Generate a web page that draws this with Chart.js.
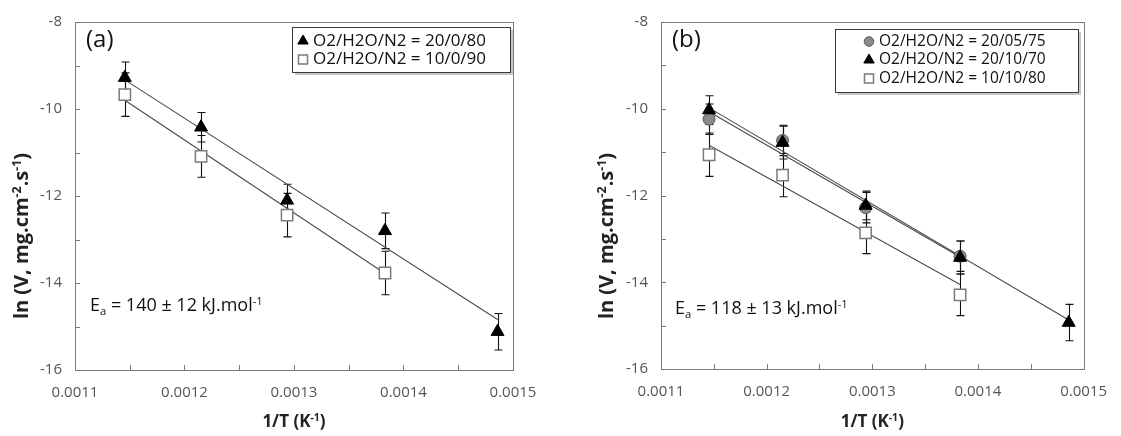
<!DOCTYPE html>
<html><head><meta charset="utf-8">
<script src="https://cdn.jsdelivr.net/npm/chart.js@4/dist/chart.umd.min.js"></script>
<style>
html,body{margin:0;padding:0;background:#fff;}
#wrap{position:relative;width:1121px;height:436px;overflow:hidden;}
.pane{position:absolute;top:0;height:436px;}
#pa{left:0;width:560px;}
#pb{left:560px;width:561px;}
</style></head><body>
<div id="wrap">
  <div class="pane" id="pa"><canvas id="ca" width="560" height="436"></canvas></div>
  <div class="pane" id="pb"><canvas id="cb" width="561" height="436"></canvas></div>
</div>
<script>
// ---------- data ----------
const invT   = [0.0011455, 0.0012151, 0.0012937, 0.0013831, 0.0014859];
const xTicks = [0.0011, 0.0012, 0.0013, 0.0014, 0.0015];
const yTicks = [-16, -14, -12, -10, -8];

// panel (a)
const a_20_0_80      = [-9.28, -10.42, -12.10, -12.80, -15.12];
const a_20_0_80_err  = [0.36, 0.34, 0.37, 0.41, 0.42];
const a_10_0_90      = [-9.67, -11.09, -12.44, -13.77];
const a_10_0_90_err  = [0.50, 0.48, 0.50, 0.50];
const a_fit_20_0_80  = [-9.33, -14.84];   // trend line at first / last point
const a_fit_10_0_90  = [-9.80, -13.78];

// panel (b)
const b_20_05_75     = [-10.24, -10.73, -12.28, -13.40];
const b_20_05_75_err = [0.35, 0.35, 0.35, 0.35];
const b_20_10_70     = [-10.03, -10.78, -12.23, -13.43, -14.93];
const b_20_10_70_err = [0.33, 0.38, 0.33, 0.38, 0.42];
const b_10_10_80     = [-11.06, -11.53, -12.86, -14.29];
const b_10_10_80_err = [0.50, 0.50, 0.48, 0.48];
const b_fit_20_05_75 = [-10.07, -13.42];
const b_fit_20_10_70 = [-9.98, -14.87];
const b_fit_10_10_80 = [-10.84, -14.05];

const labels_a = ['O2/H2O/N2 = 20/0/80', 'O2/H2O/N2 = 10/0/90'];
const labels_b = ['O2/H2O/N2 = 20/05/75', 'O2/H2O/N2 = 20/10/70', 'O2/H2O/N2 = 10/10/80'];

// ---------- styles ----------
const FONT = "'Open Sans', sans-serif";
Chart.defaults.font.family = FONT;
const FRAME = '#7a7a7a';
const LINEC = '#4a4a4a';
const STY = {
  tri: {pointStyle:'triangle', radius:7.5, backgroundColor:'#000', borderColor:'#000', borderWidth:1},
  sq:  {pointStyle:'rect', radius:8, backgroundColor:'#fff', borderColor:'#7a7a7a', borderWidth:1.5},
  circ:{pointStyle:'circle', radius:6, backgroundColor:'#8a8a8a', borderColor:'#5a5a5a', borderWidth:1}
};

function pts(vals){ return vals.map((v,i)=>({x:invT[i], y:v})); }
function fitPts(f, n){ return [{x:invT[0], y:f[0]}, {x:invT[n-1], y:f[1]}]; }
function markerDs(label, vals, err, st, order){
  return {type:'scatter', label, data:pts(vals), err, showLine:false, order,
    pointStyle:st.pointStyle, pointRadius:st.radius, pointHoverRadius:st.radius,
    pointBackgroundColor:st.backgroundColor, pointBorderColor:st.borderColor,
    pointBorderWidth:st.borderWidth};
}
function lineDs(f, n){
  return {type:'line', data:fitPts(f,n), borderColor:LINEC, borderWidth:1.1,
    pointRadius:0, fill:false, tension:0, order:10};
}

// rich text: segments {t, sup, sub}
function segFont(weight, size, s){ return weight + ' ' + (s.sup||s.sub ? size*0.62 : size) + 'px ' + FONT; }
function drawRich(ctx, segs, cx, cy, size, weight, color, rot){
  ctx.save();
  ctx.translate(cx, cy);
  if (rot) ctx.rotate(rot);
  let total = 0;
  segs.forEach(s=>{ ctx.font = segFont(weight,size,s); s.w = ctx.measureText(s.t).width; total += s.w; });
  let x = -total/2;
  ctx.fillStyle = color; ctx.textBaseline = 'alphabetic'; ctx.textAlign = 'left';
  segs.forEach(s=>{
    ctx.font = segFont(weight,size,s);
    const dy = s.sup ? -size*0.38 : (s.sub ? size*0.2 : 0);
    ctx.fillText(s.t, x, size*0.36 + dy);
    x += s.w;
  });
  ctx.restore();
}
function drawRichLeft(ctx, segs, lx, cy, size, weight, color){
  ctx.save();
  let x = lx;
  ctx.fillStyle = color; ctx.textBaseline='alphabetic'; ctx.textAlign='left';
  segs.forEach(s=>{
    ctx.font = segFont(weight,size,s);
    const dy = s.sup ? -size*0.38 : (s.sub ? size*0.22 : 0);
    ctx.fillText(s.t, x, cy + size*0.36 + dy);
    x += ctx.measureText(s.t).width;
  });
  ctx.restore();
}
function drawMarker(ctx, st, x, y){
  ctx.save();
  ctx.fillStyle = st.backgroundColor; ctx.strokeStyle = st.borderColor; ctx.lineWidth = st.borderWidth;
  const r = st.radius;
  ctx.beginPath();
  if (st.pointStyle === 'triangle'){
    ctx.moveTo(x, y - r);
    ctx.lineTo(x + r*Math.sin(Math.PI/3), y + r/2);
    ctx.lineTo(x - r*Math.sin(Math.PI/3), y + r/2);
    ctx.closePath();
  } else if (st.pointStyle === 'rect'){
    const s = r*Math.SQRT1_2;
    ctx.rect(x - s, y - s, 2*s, 2*s);
  } else {
    ctx.arc(x, y, r, 0, Math.PI*2);
  }
  ctx.fill(); ctx.stroke();
  ctx.restore();
}

const errorBars = {
  id:'errorBars',
  beforeDatasetsDraw(chart){
    const ctx = chart.ctx, xs = chart.scales.x, ys = chart.scales.y;
    ctx.save(); ctx.strokeStyle = '#111'; ctx.lineWidth = 1.1;
    chart.data.datasets.forEach(ds=>{
      if (!ds.err) return;
      ds.data.forEach((p,i)=>{
        const px = Math.round(xs.getPixelForValue(p.x)) + 0.5;
        const y1 = ys.getPixelForValue(p.y + ds.err[i]);
        const y2 = ys.getPixelForValue(p.y - ds.err[i]);
        ctx.beginPath();
        ctx.moveTo(px, y1); ctx.lineTo(px, y2);
        ctx.moveTo(px-4, y1); ctx.lineTo(px+4, y1);
        ctx.moveTo(px-4, y2); ctx.lineTo(px+4, y2);
        ctx.stroke();
      });
    });
    ctx.restore();
  }
};

const frame = {
  id:'frame',
  afterDatasetsDraw(chart){
    const ctx = chart.ctx, a = chart.chartArea, xs = chart.scales.x, ys = chart.scales.y;
    ctx.save(); ctx.strokeStyle = FRAME; ctx.lineWidth = 1;
    ctx.strokeRect(Math.round(a.left)+0.5, Math.round(a.top)+0.5, Math.round(a.right-a.left), Math.round(a.bottom-a.top));
    ctx.beginPath();
    for (let i=0;i<xTicks.length;i++){
      const vals = [xTicks[i]];
      if (i<xTicks.length-1) vals.push((xTicks[i]+xTicks[i+1])/2);
      vals.forEach(v=>{ const px = Math.round(xs.getPixelForValue(v))+0.5; ctx.moveTo(px, a.bottom); ctx.lineTo(px, a.bottom-5); });
    }
    for (let i=0;i<yTicks.length;i++){
      const vals = [yTicks[i]];
      if (i<yTicks.length-1) vals.push((yTicks[i]+yTicks[i+1])/2);
      vals.forEach(v=>{ const py = Math.round(ys.getPixelForValue(v))+0.5; ctx.moveTo(a.left, py); ctx.lineTo(a.left+5, py); });
    }
    ctx.stroke();
    ctx.restore();
  }
};

function annot(opts){
  return {
    id:'annot',
    afterDraw(chart){
      const ctx = chart.ctx, a = chart.chartArea;
      // panel letter
      ctx.save(); ctx.fillStyle = '#111'; ctx.font = '24px ' + FONT; ctx.textBaseline='middle'; ctx.textAlign='left';
      ctx.fillText(opts.letter, a.left + opts.letterDx, 40);
      ctx.restore();
      // activation energy
      drawRichLeft(ctx, opts.ea, a.left + opts.eaDx, opts.eaY, 18, 'normal', '#111');
      // y title
      drawRich(ctx, [{t:'ln (V, mg.cm'},{t:'-2',sup:true},{t:'.s'},{t:'-1',sup:true},{t:')'}],
        opts.yTitleX, opts.yTitleY, 20, 'bold', '#222', -Math.PI/2);
      // x title
      drawRich(ctx, [{t:'1/T (K'},{t:'-1',sup:true},{t:')'}], (a.left+a.right)/2, 421, 17, 'bold', '#222', 0);
      // legend
      const L = opts.legend;
      ctx.save();
      ctx.fillStyle = 'rgba(0,0,0,0.22)';
      ctx.fillRect(L.x+3, L.y+3, L.w, L.h);
      ctx.fillStyle = '#fff'; ctx.fillRect(L.x, L.y, L.w, L.h);
      ctx.strokeStyle = '#3a3a3a'; ctx.lineWidth = 1;
      ctx.strokeRect(L.x+0.5, L.y+0.5, L.w, L.h);
      ctx.font = L.fs + 'px ' + FONT; ctx.textBaseline='middle'; ctx.textAlign='left';
      L.items.forEach((it, i)=>{
        const y = L.y + L.first + i*L.step;
        drawMarker(ctx, Object.assign({}, it.st, {radius: it.st.radius*0.8}), L.x + L.mx, y);
        ctx.fillStyle = '#111';
        ctx.fillText(it.label, L.x + L.tx, y);
      });
      ctx.restore();
    }
  };
}

function makeChart(id, datasets, opt){
  return new Chart(document.getElementById(id), {
    type:'scatter',
    data:{datasets},
    options:{
      responsive:false, animation:false, devicePixelRatio:1,
      layout:{padding:{left:0, right:opt.right, top:14, bottom:0}},
      plugins:{legend:{display:false}, tooltip:{enabled:false}},
      scales:{
        x:{type:'linear', min:0.0011, max:0.0015,
           afterBuildTicks(s){ s.ticks = xTicks.map(v=>({value:v})); },
           afterFit(s){ s.height = opt.xh; },
           grid:{display:false, drawTicks:false}, border:{display:false},
           ticks:{color:'#555', font:{size:15}, padding:14, maxRotation:0, callback:v=>Number(v).toFixed(4)}},
        y:{type:'linear', min:-16, max:-8,
           afterBuildTicks(s){ s.ticks = yTicks.map(v=>({value:v})); },
           afterFit(s){ s.width = opt.yw; },
           grid:{display:false, drawTicks:false}, border:{display:false},
           ticks:{color:'#555', font:{size:15}, padding:13, callback:v=>String(v)}}
      }
    },
    plugins:[errorBars, frame, annot(opt)]
  });
}

makeChart('ca', [
  markerDs(labels_a[0], a_20_0_80, a_20_0_80_err, STY.tri, 1),
  markerDs(labels_a[1], a_10_0_90, a_10_0_90_err, STY.sq, 2),
  lineDs(a_fit_20_0_80, a_20_0_80.length),
  lineDs(a_fit_10_0_90, a_10_0_90.length)
], {right:47, xh:66, yw:75, letter:'(a)', letterDx:11, eaDx:15, eaY:305,
    ea:[{t:'E'},{t:'a',sub:true},{t:' = 140 ± 12 kJ.mol'},{t:'-1',sup:true}],
    yTitleX:21, yTitleY:236,
    legend:{x:292, y:27, w:218, h:45, first:14, step:18.5, mx:11, tx:21, fs:17,
      items:[{st:STY.tri,label:labels_a[0]},{st:STY.sq,label:labels_a[1]}]}});

makeChart('cb', [
  markerDs(labels_b[1], b_20_10_70, b_20_10_70_err, STY.tri, 1),
  markerDs(labels_b[0], b_20_05_75, b_20_05_75_err, STY.circ, 2),
  markerDs(labels_b[2], b_10_10_80, b_10_10_80_err, STY.sq, 3),
  lineDs(b_fit_20_05_75, b_20_05_75.length),
  lineDs(b_fit_20_10_70, b_20_10_70.length),
  lineDs(b_fit_10_10_80, b_10_10_80.length)
], {right:29, xh:67, yw:101, letter:'(b)', letterDx:11, eaDx:14, eaY:308,
    ea:[{t:'E'},{t:'a',sub:true},{t:' = 118 ± 13 kJ.mol'},{t:'-1',sup:true}],
    yTitleX:46, yTitleY:236,
    legend:{x:275, y:29, w:243, h:63, first:12.5, step:18.5, mx:34, tx:44, fs:15.5,
      items:[{st:STY.circ,label:labels_b[0]},{st:STY.tri,label:labels_b[1]},{st:STY.sq,label:labels_b[2]}]}});
</script>
</body></html>
